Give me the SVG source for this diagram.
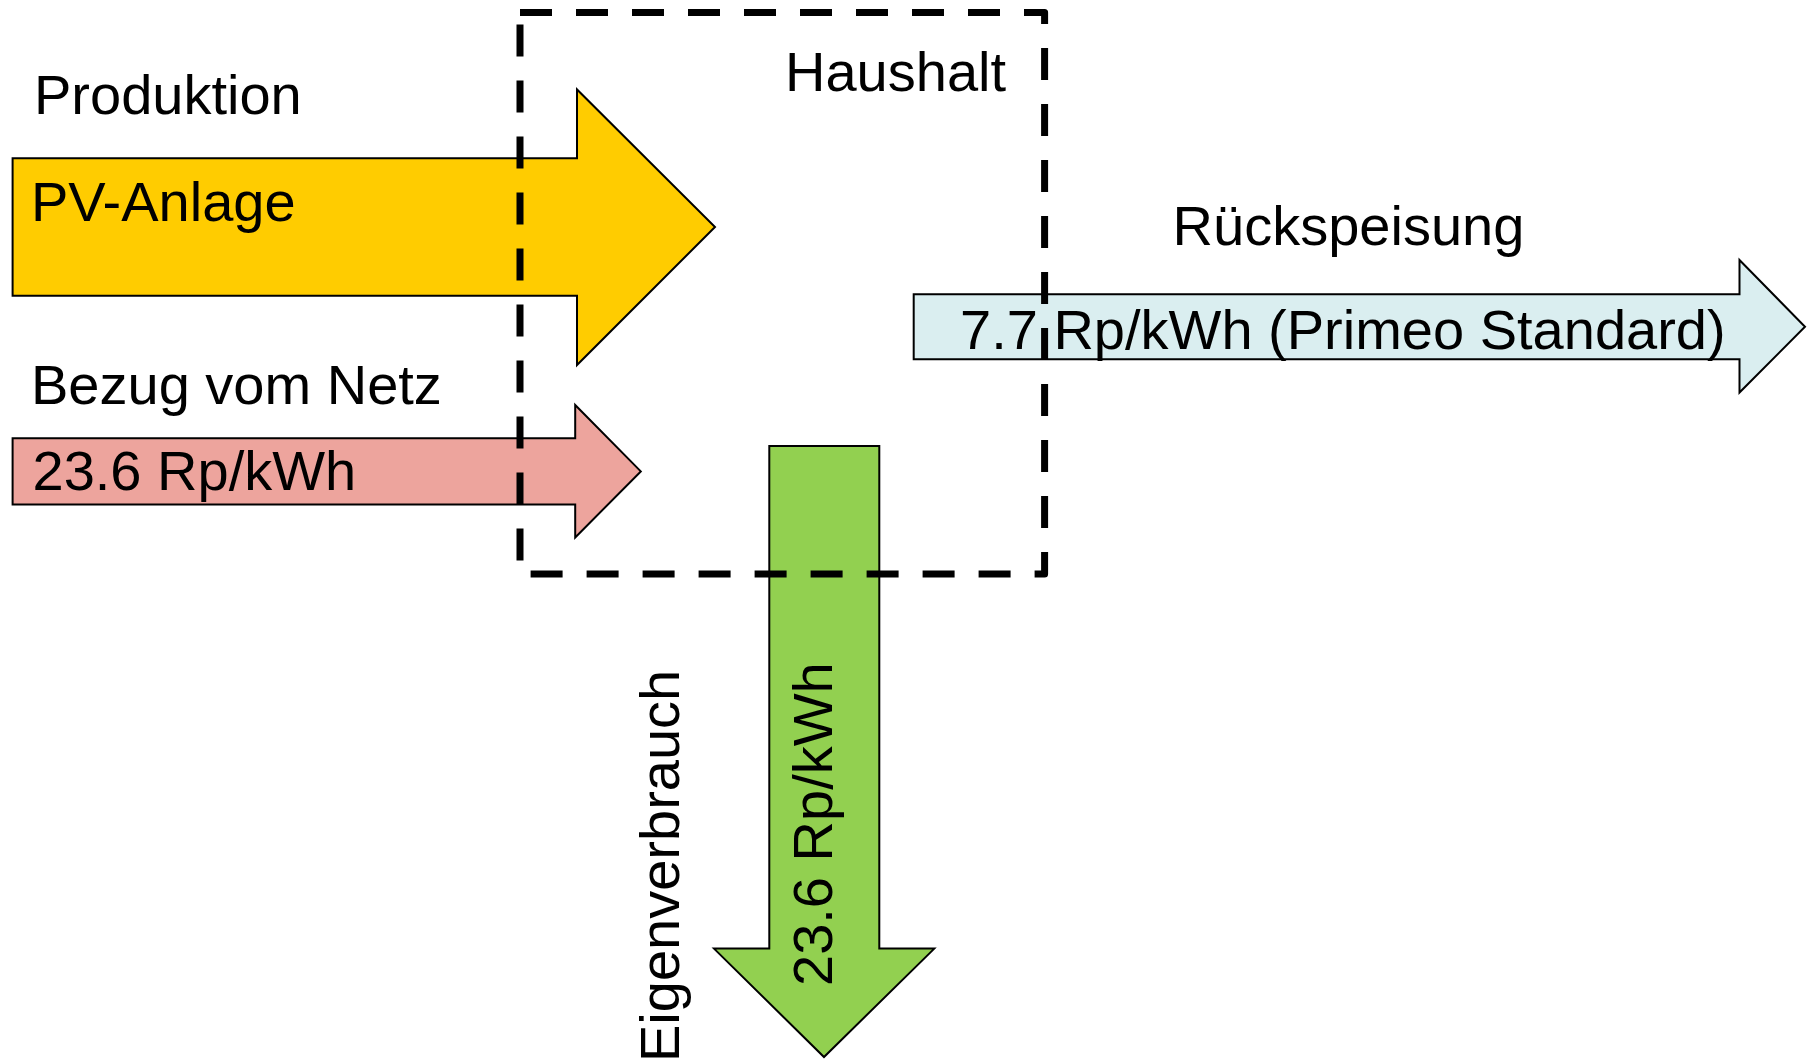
<svg xmlns="http://www.w3.org/2000/svg" width="1811" height="1059" viewBox="0 0 1811 1059">
  <style>
    text { font-family: "Liberation Sans", Arial, sans-serif; font-size: 56px; fill: #000; }
    .arrow { stroke: #000; stroke-width: 2; stroke-linejoin: miter; }
    .pv { fill: #FFCC00; }
    .grid { fill: #EDA49D; }
    .feed { fill: #DAEEF0; }
    .own { fill: #92D050; }
    .boundary { fill: none; stroke: #000; stroke-width: 7; stroke-dasharray: 32 24; stroke-linejoin: round; }
  </style>
  <rect width="1811" height="1059" fill="#fff"/>

  <!-- flows into and out of the household -->
  <g id="connectors">
    <g id="pv-flow">
      <polygon class="arrow pv" points="12.6,158.2 577,158.2 577,89.5 715,227 577,365 577,295.7 12.6,295.7"/>
    </g>
    <g id="grid-flow">
      <polygon class="arrow grid" points="12.6,438.2 575.2,438.2 575.2,405 640.8,471.4 575.2,537.5 575.2,504.4 12.6,504.4"/>
    </g>
    <g id="feed-flow">
      <polygon class="arrow feed" points="913.7,294.3 1739.5,294.3 1739.5,260 1805,326.7 1739.5,392.5 1739.5,359.3 913.7,359.3"/>
    </g>
    <g id="own-flow">
      <polygon class="arrow own" points="769.3,446 879.3,446 879.3,948.6 934.3,948.6 824,1057 714,948.6 769.3,948.6"/>
    </g>
  </g>

  <!-- household boundary -->
  <g id="household">
    <path class="boundary" d="M520,12.6 H1044.6 V574 H520 Z"/>
    <text x="785" y="91">Haushalt</text>
  </g>

  <g id="production">
    <text x="34" y="113.6">Produktion</text>
    <text x="31" y="221.4">PV-Anlage</text>
  </g>

  <g id="grid-supply">
    <text x="31" y="403.6">Bezug vom Netz</text>
    <text x="32.5" y="490">23.6 Rp/kWh</text>
  </g>

  <g id="feed-in">
    <text x="1172.6" y="245">Rückspeisung</text>
    <text x="960" y="349">7.7 Rp/kWh (Primeo Standard)</text>
  </g>

  <g id="self-consumption">
    <text transform="translate(679,1062) rotate(-90)">Eigenverbrauch</text>
    <text transform="translate(832,986) rotate(-90)">23.6 Rp/kWh</text>
  </g>
</svg>
